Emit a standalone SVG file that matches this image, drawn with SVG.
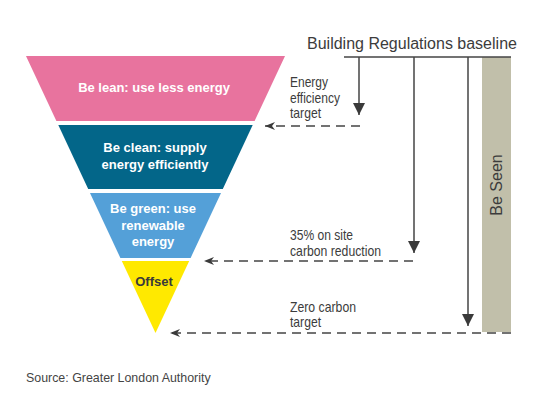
<svg xmlns="http://www.w3.org/2000/svg" width="540" height="405" viewBox="0 0 540 405">
<style>
.white{font-family:"Liberation Sans",Arial,sans-serif;font-weight:bold;font-size:13px;fill:#ffffff;text-anchor:middle}
.dark{font-family:"Liberation Sans",Arial,sans-serif;font-weight:bold;font-size:13px;fill:#3a3a3a;text-anchor:middle}
.lbl{font-family:"Liberation Sans",Arial,sans-serif;font-size:15px;fill:#3c3c3c}
.title{font-family:"Liberation Sans",Arial,sans-serif;font-size:16px;fill:#3c3c3c}
.src{font-family:"Liberation Sans",Arial,sans-serif;font-size:12.4px;fill:#444444}
.solid{stroke:#444444;stroke-width:1.5;fill:none}
.dash{stroke:#444444;stroke-width:1.5;fill:none;stroke-dasharray:9 6}
</style>
<defs>
<marker id="down" markerUnits="userSpaceOnUse" markerWidth="14" markerHeight="12" refX="12" refY="6" orient="auto">
<path d="M0,0 L12,6 L0,12 Z" fill="#3a3a3a"/>
</marker>
<marker id="barb" markerUnits="userSpaceOnUse" markerWidth="12" markerHeight="10" refX="10" refY="5" orient="auto">
<path d="M0,1 L10,5 L0,9 L3,5 Z" fill="#3a3a3a"/>
</marker>
</defs>
<rect width="540" height="405" fill="#ffffff"/>
<g id="be-seen">
<rect x="482" y="57" width="29" height="275" fill="#c1bfaa"/>
<text class="title" transform="translate(501.5,185) rotate(-90)" text-anchor="middle">Be Seen</text>
</g>
<g id="be-lean">
<polygon points="26,56 285,56 254.6,121 56.4,121" fill="#e8739e"/>
<text class="white" x="154" y="92">Be lean: use less energy</text>
</g>
<g id="be-clean">
<polygon points="58.3,125 252.7,125 222.8,189 88.2,189" fill="#036689"/>
<text class="white" x="155" y="152">Be clean: supply</text>
<text class="white" x="155" y="169">energy efficiently</text>
</g>
<g id="be-green">
<polygon points="90,193 221,193 190.6,258 120.4,258" fill="#54a0d8"/>
<text class="white" x="153" y="213">Be green: use</text>
<text class="white" x="153" y="229.5">renewable</text>
<text class="white" x="153" y="246">energy</text>
</g>
<g id="offset">
<polygon points="121.8,261 189.2,261 155.5,333" fill="#ffe900"/>
<text class="dark" x="154" y="286">Offset</text>
</g>
<g id="baseline">
<text class="title" x="307" y="49">Building Regulations baseline</text>
</g>
<g id="labels">
<text class="lbl" x="290" y="87" textLength="38" lengthAdjust="spacingAndGlyphs">Energy</text>
<text class="lbl" x="290" y="102.5" textLength="50" lengthAdjust="spacingAndGlyphs">efficiency</text>
<text class="lbl" x="290" y="118" textLength="31" lengthAdjust="spacingAndGlyphs">target</text>
<text class="lbl" x="290" y="239.5" textLength="63" lengthAdjust="spacingAndGlyphs">35% on site</text>
<text class="lbl" x="290" y="255.5" textLength="91" lengthAdjust="spacingAndGlyphs">carbon reduction</text>
<text class="lbl" x="290" y="311.5" textLength="66" lengthAdjust="spacingAndGlyphs">Zero carbon</text>
<text class="lbl" x="290" y="327" textLength="31" lengthAdjust="spacingAndGlyphs">target</text>
</g>
<g id="connectors">
<line class="solid" x1="344" y1="57" x2="511" y2="57"/>
<line class="solid" x1="359" y1="57" x2="359" y2="115" marker-end="url(#down)"/>
<line class="solid" x1="414" y1="57" x2="414" y2="253" marker-end="url(#down)"/>
<line class="solid" x1="468" y1="57" x2="468" y2="326" marker-end="url(#down)"/>
<line class="dash" x1="360" y1="126" x2="265" y2="126" marker-end="url(#barb)"/>
<line class="dash" x1="413" y1="261" x2="204" y2="261" marker-end="url(#barb)"/>
<line class="dash" x1="511" y1="333" x2="170" y2="333" marker-end="url(#barb)"/>
</g>
<text class="src" x="26" y="382">Source: Greater London Authority</text>
</svg>
